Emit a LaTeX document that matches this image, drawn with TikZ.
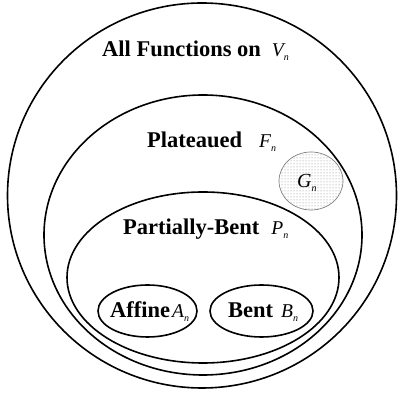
\documentclass[tikz,border=0pt]{standalone}
\usepackage{fontspec}
\setmainfont{Liberation Serif}
\usetikzlibrary{patterns}
\newcommand{\mysetname}[3][19.5pt]{{\normalfont\fontsize{#1}{#1}\selectfont\itshape #2}\raisebox{-4pt}{\normalfont\fontsize{10pt}{10pt}\selectfont\itshape #3}}
\tikzset{
  setline/.style={line width=1.6pt},
  setlabel/.style={anchor=base west, inner sep=0pt, font=\fontsize{22.5pt}{24pt}\selectfont\bfseries},
}
\begin{document}
\begin{tikzpicture}[x=1pt,y=1pt]
\useasboundingbox (0,0) rectangle (399,398);
% outer set
\draw[setline] (202,202.5) ellipse [x radius=194.5, y radius=192.5];
% plateaued
\draw[setline] (203,163) ellipse [x radius=159, y radius=140];
% G_n
\draw[gray, line width=0.7pt, pattern=dots, pattern color=gray] (311,217) ellipse [x radius=32, y radius=29];
% partially bent
\draw[setline] (203,120.5) ellipse [x radius=136, y radius=85.5];
% affine, bent
\draw[setline] (147.5,87) ellipse [x radius=49.5, y radius=26];
\draw[setline] (261.5,87) ellipse [x radius=51.5, y radius=26];
% labels
\node[setlabel] (all) at (102,341) {All Functions on\hspace{11pt}\mysetname{V}{n}};
\node[setlabel] (plat) at (147,250) {Plateaued\hspace{17pt}\mysetname{F}{n}};
\node[setlabel] (part) at (123,163) {Partially-Bent\hspace{12pt}\mysetname{P}{n}};
\node[setlabel] (aff) at (110,80) {Affine\hspace{2pt}\mysetname{A}{n}};
\node[setlabel] (bent) at (228,80) {Bent\hspace{8pt}\mysetname{B}{n}};
\node[setlabel] (g) at (297,210) {\mysetname[20pt]{G}{n}};
\end{tikzpicture}
\end{document}
